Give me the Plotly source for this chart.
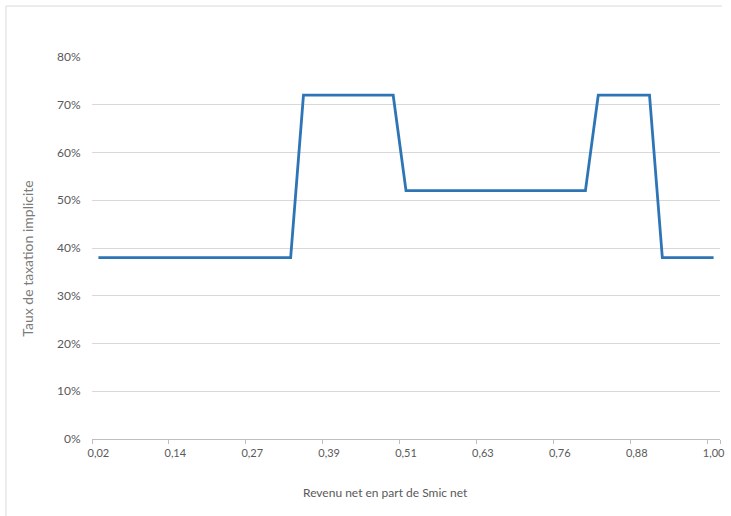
import plotly.graph_objects as go

categories = ["0,02","0,04","0,06","0,08","0,10","0,12","0,14","0,16","0,18","0,20",
              "0,22","0,24","0,27","0,29","0,31","0,33","0,35","0,37","0,39","0,41",
              "0,43","0,45","0,47","0,49","0,51","0,53","0,55","0,57","0,59","0,61",
              "0,63","0,65","0,67","0,69","0,71","0,73","0,76","0,78","0,80","0,82",
              "0,84","0,86","0,88","0,90","0,92","0,94","0,96","0,98","1,00"]

taux = [0.38]*16 + [0.72]*8 + [0.52]*15 + [0.72]*5 + [0.38]*5

tick_labels = ["0,02","0,14","0,27","0,39","0,51","0,63","0,76","0,88","1,00"]

y_title = "Taux de taxation implicite"
x_title = "Revenu net en part de Smic net"

FONT = "Lato"
GRAY = "#595959"
BORDER = dict(color="#d9d9d9", width=1)

fig = go.Figure()
fig.add_trace(go.Scatter(x=categories, y=taux, mode="lines",
                         line=dict(color="#2e75b6", width=2.8),
                         showlegend=False, hoverinfo="skip"))

fig.update_layout(
    width=731, height=516,
    margin=dict(l=92, r=11, t=57, b=77),
    paper_bgcolor="white", plot_bgcolor="white",
    font=dict(family=FONT, color=GRAY, size=12),
    shapes=[
        dict(type="line", xref="paper", yref="paper",
             x0=-0.137, x1=1.003, y0=1.1335, y1=1.1335, line=BORDER, layer="below"),
        dict(type="line", xref="paper", yref="paper",
             x0=-0.137, x1=-0.137, y0=1.1335, y1=-0.3, line=BORDER, layer="below"),
    ],
    annotations=[
        dict(text=x_title, xref="paper", yref="paper", x=0.468, y=-0.139,
             xanchor="center", yanchor="middle", showarrow=False,
             font=dict(family=FONT, size=12, color=GRAY)),
        dict(text=y_title, xref="paper", yref="paper", x=-0.102, y=0.472,
             xanchor="center", yanchor="middle", showarrow=False, textangle=-90,
             font=dict(family=FONT, size=14, color="#7a7a7a")),
    ],
)
fig.update_xaxes(
    type="category", categoryorder="array", categoryarray=categories,
    range=[-0.5, len(categories) - 0.5],
    tickmode="array", tickvals=tick_labels, ticktext=tick_labels,
    tickson="boundaries", ticks="outside", ticklen=4, tickcolor="#bfbfbf",
    tickangle=0, automargin=False, ticklabelstandoff=4,
    showgrid=False, showline=True, linecolor="#bfbfbf", linewidth=1,
    tickfont=dict(family=FONT, size=11, color=GRAY),
)
fig.update_yaxes(
    range=[0, 0.8], dtick=0.1, tickformat=".0%", automargin=False,
    showgrid=True, gridcolor="#d9d9d9", gridwidth=1, zeroline=False,
    ticks="outside", ticklen=8, tickcolor="rgba(0,0,0,0)",
    tickfont=dict(family=FONT, size=12, color=GRAY),
)

fig.write_html("out.html", config={"displayModeBar": False},
               post_script="document.body.style.margin='0';document.body.style.padding='0';")
